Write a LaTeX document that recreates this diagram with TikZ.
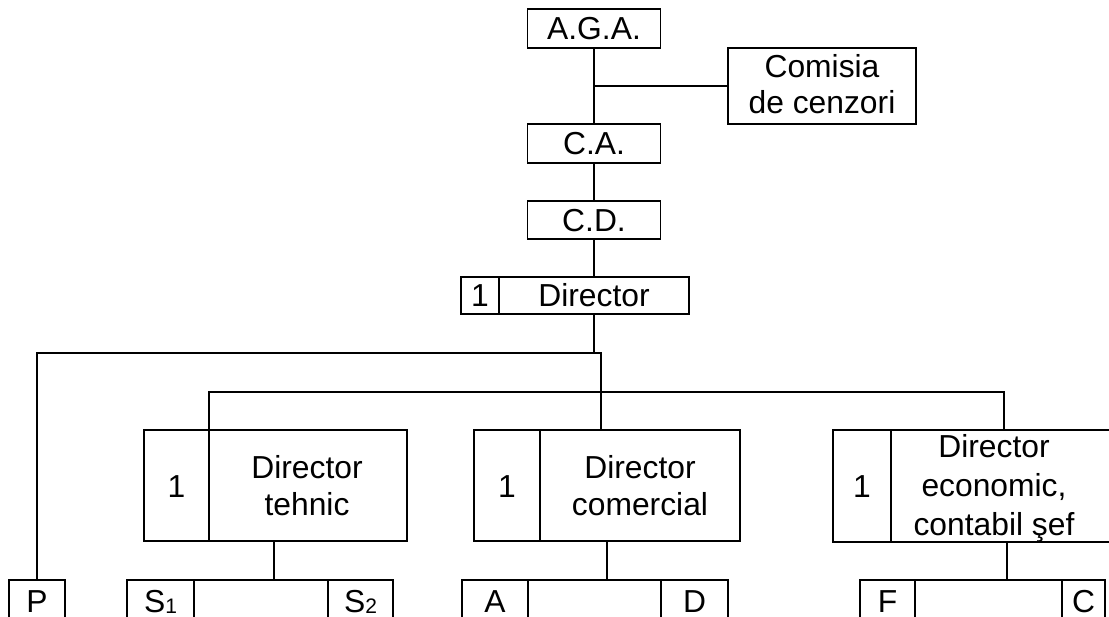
\documentclass[tikz,border=0pt]{standalone}
\usepackage{fontspec}
\setmainfont{Liberation Sans}
\newcommand{\lowidx}[1]{\raisebox{-1.5pt}{\fontsize{21}{21}\selectfont #1}}
\begin{document}
\begin{tikzpicture}[x=1pt,y=-1pt,
  every node/.style={inner sep=0pt, outer sep=0pt},
  cell/.style={draw, rectangle, line width=1.9pt},
  wire/.style={line width=1.9pt},
  lbl/.style={anchor=base, font=\fontsize{31.8}{37}\selectfont}]
\useasboundingbox (0,0) rectangle (1109,617);
\clip (0,0) rectangle (1109,617);

% upper chain
\node[cell, minimum width=133pt, minimum height=39pt] (aga) at (594,28.5) {};
\node[lbl] (agaT) at (594,39.5) {A.G.A.};
\node[cell, minimum width=188pt, minimum height=76pt] (com) at (822,86) {};
\node[lbl] (comT1) at (822,77.5) {Comisia};
\node[lbl] (comT2) at (822,113.5) {de cenzori};
\node[cell, minimum width=133pt, minimum height=39pt] (ca) at (594,143.5) {};
\node[lbl] (caT) at (594,155) {C.A.};
\node[cell, minimum width=133pt, minimum height=38pt] (cd) at (594,220) {};
\node[lbl] (cdT) at (594,231.5) {C.D.};

% general director
\node[cell, minimum width=38pt, minimum height=37pt] (dirN) at (480,295.5) {};
\node[lbl] (dirNT) at (480,307) {1};
\node[cell, minimum width=190pt, minimum height=37pt] (dir) at (594,295.5) {};
\node[lbl] (dirT) at (594,307) {Director};

% second-level directors
\node[cell, minimum width=65pt, minimum height=111pt] (tehN) at (176.5,485.5) {};
\node[lbl] (tehNT) at (176.5,497) {1};
\node[cell, minimum width=198pt, minimum height=111pt] (teh) at (308,485.5) {};
\node[lbl] (tehT1) at (307,478.5) {Director};
\node[lbl] (tehT2) at (307,515) {tehnic};

\node[cell, minimum width=66pt, minimum height=111pt] (cmN) at (507,485.5) {};
\node[lbl] (cmNT) at (507,497) {1};
\node[cell, minimum width=200pt, minimum height=111pt] (cm) at (640,485.5) {};
\node[lbl] (cmT1) at (640,478.5) {Director};
\node[lbl] (cmT2) at (640,515) {comercial};

\node[cell, minimum width=58pt, minimum height=112pt] (ecoN) at (862,486) {};
\node[lbl] (ecoNT) at (862,497.5) {1};
\node[cell, minimum width=234pt, minimum height=112pt] (eco) at (1008,486) {};
\node[lbl] (ecoT1) at (994,458) {Director};
\node[lbl] (ecoT2) at (994,496.5) {economic,};
\node[lbl] (ecoT3) at (994,535) {contabil şef};

% bottom row of departments
\node[cell, minimum width=56pt, minimum height=60pt] (p) at (37,610) {};
\node[lbl] (pT) at (37,612) {P};

\node[cell, minimum width=67pt, minimum height=60pt] (s1) at (160.5,610) {};
\node[lbl] (s1T) at (160.5,612) {S\lowidx{1}};
\node[cell, minimum width=134pt, minimum height=60pt] (sm) at (261,610) {};
\node[cell, minimum width=65pt, minimum height=60pt] (s2) at (360.5,610) {};
\node[lbl] (s2T) at (360.5,612) {S\lowidx{2}};

\node[cell, minimum width=66pt, minimum height=60pt] (a) at (495,610) {};
\node[lbl] (aT) at (495,612) {A};
\node[cell, minimum width=133pt, minimum height=60pt] (am) at (594.5,610) {};
\node[cell, minimum width=67pt, minimum height=60pt] (d) at (694.5,610) {};
\node[lbl] (dT) at (694.5,612) {D};

\node[cell, minimum width=55pt, minimum height=60pt] (f) at (887.5,610) {};
\node[lbl] (fT) at (887.5,612) {F};
\node[cell, minimum width=147pt, minimum height=60pt] (fm) at (988.5,610) {};
\node[cell, minimum width=43pt, minimum height=60pt] (c) at (1083.5,610) {};
\node[lbl] (cT) at (1083.5,612) {C};

% connectors
\draw[wire] (aga.south) -- (ca.north);
\coordinate (tap) at (aga.south |- com.west);
\draw[wire] (tap) -- (com.west);
\draw[wire] (ca.south) -- (cd.north);
\draw[wire] (cd.south) -- (dir.north);

\coordinate (j1) at (601,353);
\draw[wire] (dir.south) -- (dir.south |- j1);
\draw[wire] (p.north) |- (j1) -- (j1 |- cmN.north);
\coordinate (j2) at (1004,392);
\draw[wire] (tehN.north east) |- (j2) -- (j2 |- eco.north);

\coordinate (tb) at (274,541);
\draw[wire] (tb) -- (tb |- sm.north);
\coordinate (cb) at (607,541);
\draw[wire] (cb) -- (cb |- am.north);
\coordinate (eb) at (1007,542);
\draw[wire] (eb) -- (eb |- fm.north);
\end{tikzpicture}
\end{document}
